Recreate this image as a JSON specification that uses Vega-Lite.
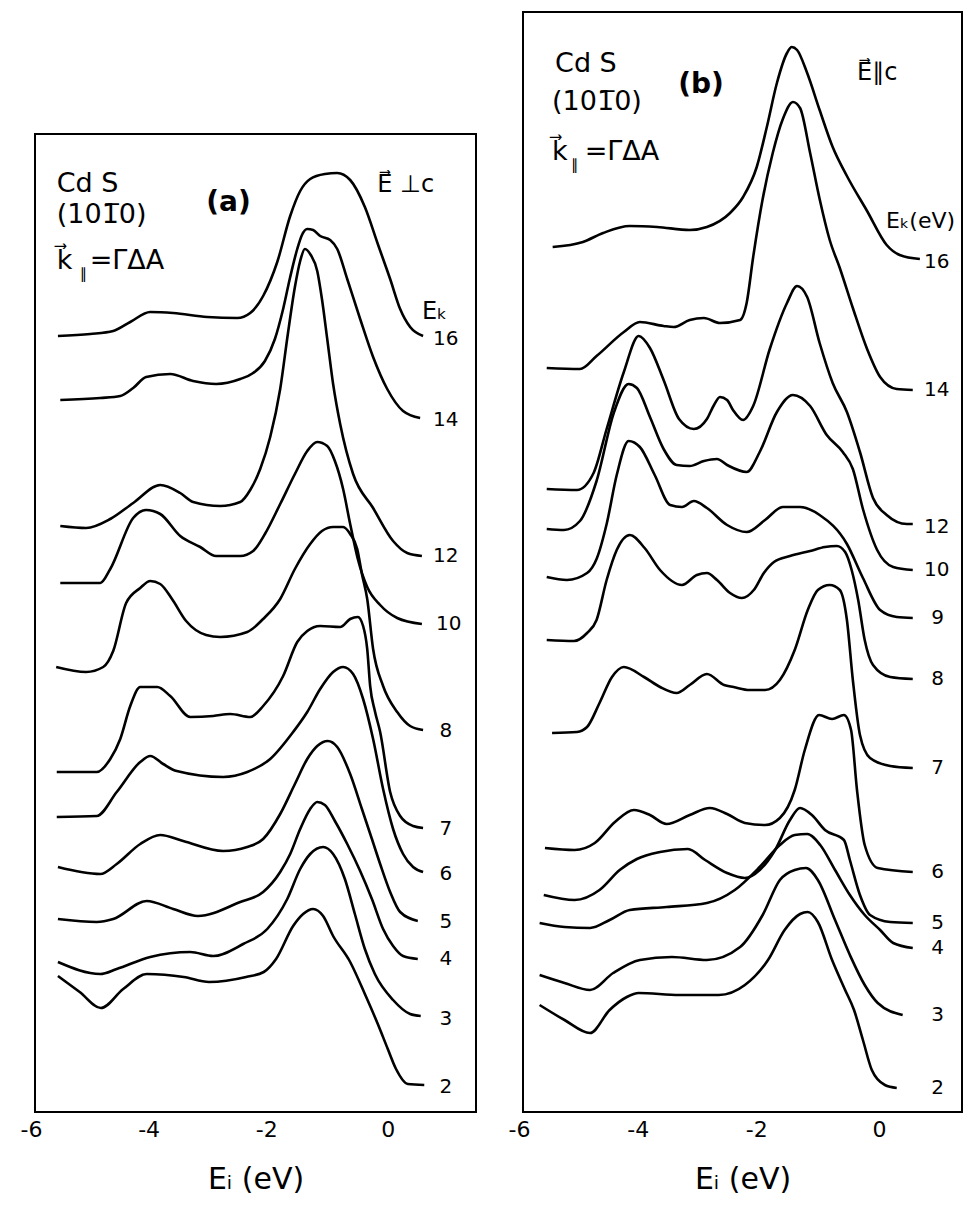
{
"$schema": "https://vega.github.io/schema/vega-lite/v6.json",
"background": "white",
"padding": {"left": 20, "top": 11, "right": 0, "bottom": 0},
"spacing": 31,
"config": {"view": {"stroke": null}, "font": "DejaVu Sans"},
"datasets": {
"frA": [{"E": -6, "E2": 1.5, "I": 0, "I2": 978}],
"frB": [{"E": -6, "E2": 1.4, "I": 0, "I2": 1100}],
"tkA": [{"E": -5}, {"E": -4}, {"E": -3}, {"E": -2}, {"E": -1}, {"E": 0}, {"E": 1}],
"tk": [{"E": -5}, {"E": -4}, {"E": -3}, {"E": -2}, {"E": -1}, {"E": 0}],
"cA": [
{"k":"16","E":-5.61,"I":776},{"k":"16","E":-5.06,"I":778},{"k":"16","E":-4.67,"I":781},{"k":"16","E":-4.38,"I":790},{"k":"16","E":-4.04,"I":800},{"k":"16","E":-3.65,"I":799},{"k":"16","E":-3.07,"I":795},{"k":"16","E":-2.56,"I":794},{"k":"16","E":-2.34,"I":799},{"k":"16","E":-2.12,"I":816},{"k":"16","E":-1.88,"I":850},{"k":"16","E":-1.66,"I":896},{"k":"16","E":-1.49,"I":921},{"k":"16","E":-1.32,"I":933},{"k":"16","E":-1.07,"I":938},{"k":"16","E":-0.86,"I":939},{"k":"16","E":-0.64,"I":932},{"k":"16","E":-0.39,"I":905},{"k":"16","E":-0.17,"I":868},{"k":"16","E":0.04,"I":833},{"k":"16","E":0.21,"I":803},{"k":"16","E":0.38,"I":785},{"k":"16","E":0.60,"I":776},
{"k":"14","E":-5.57,"I":712},{"k":"14","E":-4.89,"I":714},{"k":"14","E":-4.55,"I":716},{"k":"14","E":-4.33,"I":724},{"k":"14","E":-4.11,"I":735},{"k":"14","E":-3.70,"I":738},{"k":"14","E":-3.31,"I":731},{"k":"14","E":-2.92,"I":728},{"k":"14","E":-2.51,"I":733},{"k":"14","E":-2.29,"I":739},{"k":"14","E":-2.09,"I":751},{"k":"14","E":-1.92,"I":773},{"k":"14","E":-1.78,"I":803},{"k":"14","E":-1.66,"I":835},{"k":"14","E":-1.54,"I":863},{"k":"14","E":-1.46,"I":877},{"k":"14","E":-1.37,"I":883},{"k":"14","E":-1.27,"I":882},{"k":"14","E":-1.15,"I":876},{"k":"14","E":-0.98,"I":872},{"k":"14","E":-0.86,"I":863},{"k":"14","E":-0.69,"I":833},{"k":"14","E":-0.47,"I":793},{"k":"14","E":-0.25,"I":755},{"k":"14","E":-0.01,"I":723},{"k":"14","E":0.26,"I":701},{"k":"14","E":0.55,"I":694},
{"k":"12","E":-5.57,"I":586},{"k":"12","E":-5.13,"I":584},{"k":"12","E":-4.72,"I":593},{"k":"12","E":-4.33,"I":609},{"k":"12","E":-3.87,"I":627},{"k":"12","E":-3.53,"I":619},{"k":"12","E":-3.31,"I":610},{"k":"12","E":-2.85,"I":606},{"k":"12","E":-2.51,"I":610},{"k":"12","E":-2.34,"I":622},{"k":"12","E":-2.17,"I":643},{"k":"12","E":-2.00,"I":675},{"k":"12","E":-1.83,"I":723},{"k":"12","E":-1.70,"I":778},{"k":"12","E":-1.58,"I":825},{"k":"12","E":-1.49,"I":851},{"k":"12","E":-1.41,"I":863},{"k":"12","E":-1.31,"I":857},{"k":"12","E":-1.20,"I":841},{"k":"12","E":-1.12,"I":813},{"k":"12","E":-1.03,"I":773},{"k":"12","E":-0.93,"I":728},{"k":"12","E":-0.81,"I":688},{"k":"12","E":-0.59,"I":638},{"k":"12","E":-0.25,"I":604},{"k":"12","E":0.09,"I":571},{"k":"12","E":0.33,"I":559},{"k":"12","E":0.58,"I":556},
{"k":"10","E":-5.57,"I":529},{"k":"10","E":-4.89,"I":529},{"k":"10","E":-4.72,"I":543},{"k":"10","E":-4.33,"I":594},{"k":"10","E":-4.11,"I":602},{"k":"10","E":-3.87,"I":598},{"k":"10","E":-3.53,"I":576},{"k":"10","E":-3.19,"I":565},{"k":"10","E":-2.92,"I":556},{"k":"10","E":-2.51,"I":556},{"k":"10","E":-2.29,"I":561},{"k":"10","E":-2.09,"I":578},{"k":"10","E":-1.83,"I":608},{"k":"10","E":-1.58,"I":638},{"k":"10","E":-1.37,"I":661},{"k":"10","E":-1.20,"I":670},{"k":"10","E":-1.03,"I":666},{"k":"10","E":-0.90,"I":651},{"k":"10","E":-0.76,"I":623},{"k":"10","E":-0.64,"I":588},{"k":"10","E":-0.51,"I":553},{"k":"10","E":-0.35,"I":525},{"k":"10","E":-0.13,"I":507},{"k":"10","E":0.16,"I":494},{"k":"10","E":0.58,"I":488},
{"k":"8","E":-5.64,"I":445},{"k":"8","E":-5.13,"I":440},{"k":"8","E":-4.84,"I":445},{"k":"8","E":-4.67,"I":461},{"k":"8","E":-4.45,"I":509},{"k":"8","E":-4.21,"I":524},{"k":"8","E":-4.04,"I":531},{"k":"8","E":-3.87,"I":528},{"k":"8","E":-3.67,"I":513},{"k":"8","E":-3.43,"I":491},{"k":"8","E":-3.09,"I":477},{"k":"8","E":-2.85,"I":475},{"k":"8","E":-2.39,"I":480},{"k":"8","E":-2.12,"I":493},{"k":"8","E":-1.83,"I":513},{"k":"8","E":-1.58,"I":543},{"k":"8","E":-1.32,"I":568},{"k":"8","E":-1.12,"I":581},{"k":"8","E":-0.93,"I":585},{"k":"8","E":-0.76,"I":585},{"k":"8","E":-0.64,"I":578},{"k":"8","E":-0.52,"I":563},{"k":"8","E":-0.44,"I":538},{"k":"8","E":-0.35,"I":513},{"k":"8","E":-0.25,"I":463},{"k":"8","E":-0.08,"I":426},{"k":"8","E":0.16,"I":400},{"k":"8","E":0.38,"I":386},{"k":"8","E":0.60,"I":382},
{"k":"7","E":-5.63,"I":340},{"k":"7","E":-4.95,"I":340},{"k":"7","E":-4.72,"I":353},{"k":"7","E":-4.55,"I":373},{"k":"7","E":-4.38,"I":406},{"k":"7","E":-4.21,"I":425},{"k":"7","E":-3.92,"I":425},{"k":"7","E":-3.70,"I":416},{"k":"7","E":-3.36,"I":395},{"k":"7","E":-2.97,"I":396},{"k":"7","E":-2.68,"I":398},{"k":"7","E":-2.34,"I":395},{"k":"7","E":-2.12,"I":406},{"k":"7","E":-1.78,"I":436},{"k":"7","E":-1.54,"I":470},{"k":"7","E":-1.37,"I":481},{"k":"7","E":-1.15,"I":486},{"k":"7","E":-0.81,"I":485},{"k":"7","E":-0.64,"I":493},{"k":"7","E":-0.51,"I":495},{"k":"7","E":-0.42,"I":486},{"k":"7","E":-0.35,"I":463},{"k":"7","E":-0.30,"I":426},{"k":"7","E":-0.22,"I":401},{"k":"7","E":-0.13,"I":380},{"k":"7","E":0.04,"I":320},{"k":"7","E":0.21,"I":296},{"k":"7","E":0.43,"I":286},{"k":"7","E":0.60,"I":284},
{"k":"6","E":-5.63,"I":295},{"k":"6","E":-4.95,"I":296},{"k":"6","E":-4.61,"I":320},{"k":"6","E":-4.21,"I":350},{"k":"6","E":-4.04,"I":356},{"k":"6","E":-3.82,"I":348},{"k":"6","E":-3.59,"I":341},{"k":"6","E":-2.80,"I":335},{"k":"6","E":-2.39,"I":340},{"k":"6","E":-2.00,"I":353},{"k":"6","E":-1.61,"I":380},{"k":"6","E":-1.37,"I":400},{"k":"6","E":-1.15,"I":423},{"k":"6","E":-0.93,"I":440},{"k":"6","E":-0.76,"I":445},{"k":"6","E":-0.59,"I":438},{"k":"6","E":-0.42,"I":413},{"k":"6","E":-0.25,"I":373},{"k":"6","E":-0.08,"I":323},{"k":"6","E":0.09,"I":283},{"k":"6","E":0.26,"I":258},{"k":"6","E":0.43,"I":245},{"k":"6","E":0.60,"I":240},
{"k":"5","E":-5.61,"I":245},{"k":"5","E":-4.89,"I":238},{"k":"5","E":-4.61,"I":248},{"k":"5","E":-4.21,"I":268},{"k":"5","E":-3.87,"I":277},{"k":"5","E":-3.48,"I":271},{"k":"5","E":-2.80,"I":261},{"k":"5","E":-2.39,"I":265},{"k":"5","E":-2.12,"I":273},{"k":"5","E":-1.83,"I":298},{"k":"5","E":-1.58,"I":328},{"k":"5","E":-1.37,"I":353},{"k":"5","E":-1.20,"I":366},{"k":"5","E":-1.02,"I":371},{"k":"5","E":-0.86,"I":365},{"k":"5","E":-0.64,"I":338},{"k":"5","E":-0.44,"I":303},{"k":"5","E":-0.27,"I":273},{"k":"5","E":-0.13,"I":248},{"k":"5","E":0.04,"I":220},{"k":"5","E":0.21,"I":200},{"k":"5","E":0.51,"I":191},
{"k":"4","E":-5.61,"I":193},{"k":"4","E":-4.95,"I":190},{"k":"4","E":-4.67,"I":193},{"k":"4","E":-4.10,"I":211},{"k":"4","E":-3.65,"I":203},{"k":"4","E":-3.23,"I":196},{"k":"4","E":-2.51,"I":210},{"k":"4","E":-2.12,"I":220},{"k":"4","E":-1.83,"I":240},{"k":"4","E":-1.66,"I":258},{"k":"4","E":-1.49,"I":283},{"k":"4","E":-1.32,"I":303},{"k":"4","E":-1.20,"I":310},{"k":"4","E":-1.07,"I":307},{"k":"4","E":-0.90,"I":291},{"k":"4","E":-0.69,"I":268},{"k":"4","E":-0.47,"I":241},{"k":"4","E":-0.27,"I":213},{"k":"4","E":-0.08,"I":183},{"k":"4","E":0.09,"I":166},{"k":"4","E":0.26,"I":156},{"k":"4","E":0.51,"I":153},
{"k":"3","E":-5.61,"I":150},{"k":"3","E":-4.89,"I":138},{"k":"3","E":-4.61,"I":143},{"k":"3","E":-4.04,"I":155},{"k":"3","E":-3.36,"I":160},{"k":"3","E":-2.97,"I":156},{"k":"3","E":-2.46,"I":168},{"k":"3","E":-2.05,"I":183},{"k":"3","E":-1.71,"I":213},{"k":"3","E":-1.49,"I":243},{"k":"3","E":-1.32,"I":258},{"k":"3","E":-1.10,"I":265},{"k":"3","E":-0.93,"I":258},{"k":"3","E":-0.73,"I":233},{"k":"3","E":-0.56,"I":198},{"k":"3","E":-0.39,"I":163},{"k":"3","E":-0.22,"I":138},{"k":"3","E":0.09,"I":112},{"k":"3","E":0.38,"I":98},{"k":"3","E":0.56,"I":96},
{"k":"2","E":-5.61,"I":136},{"k":"2","E":-5.24,"I":120},{"k":"2","E":-4.88,"I":104},{"k":"2","E":-4.50,"I":123},{"k":"2","E":-4.10,"I":138},{"k":"2","E":-3.47,"I":135},{"k":"2","E":-3.04,"I":130},{"k":"2","E":-2.41,"I":135},{"k":"2","E":-2.11,"I":140},{"k":"2","E":-1.90,"I":153},{"k":"2","E":-1.61,"I":186},{"k":"2","E":-1.44,"I":198},{"k":"2","E":-1.27,"I":203},{"k":"2","E":-1.10,"I":196},{"k":"2","E":-0.93,"I":176},{"k":"2","E":-0.64,"I":150},{"k":"2","E":-0.39,"I":118},{"k":"2","E":-0.17,"I":88},{"k":"2","E":0.00,"I":63},{"k":"2","E":0.14,"I":43},{"k":"2","E":0.34,"I":28},{"k":"2","E":0.62,"I":27}
],
"cB": [
{"k":"16","E":-5.50,"I":865},{"k":"16","E":-4.99,"I":870},{"k":"16","E":-4.65,"I":879},{"k":"16","E":-4.20,"I":886},{"k":"16","E":-3.74,"I":885},{"k":"16","E":-3.19,"I":882},{"k":"16","E":-2.90,"I":885},{"k":"16","E":-2.51,"I":899},{"k":"16","E":-2.29,"I":915},{"k":"16","E":-2.06,"I":945},{"k":"16","E":-1.89,"I":985},{"k":"16","E":-1.72,"I":1029},{"k":"16","E":-1.55,"I":1059},{"k":"16","E":-1.47,"I":1065},{"k":"16","E":-1.38,"I":1062},{"k":"16","E":-1.21,"I":1039},{"k":"16","E":-1.00,"I":1002},{"k":"16","E":-0.78,"I":965},{"k":"16","E":-0.54,"I":936},{"k":"16","E":-0.20,"I":901},{"k":"16","E":0.13,"I":867},{"k":"16","E":0.35,"I":857},{"k":"16","E":0.69,"I":853},
{"k":"14","E":-5.60,"I":744},{"k":"14","E":-5.04,"I":743},{"k":"14","E":-4.76,"I":756},{"k":"14","E":-4.30,"I":780},{"k":"14","E":-4.03,"I":790},{"k":"14","E":-3.63,"I":786},{"k":"14","E":-3.46,"I":785},{"k":"14","E":-3.19,"I":792},{"k":"14","E":-2.95,"I":794},{"k":"14","E":-2.68,"I":789},{"k":"14","E":-2.34,"I":792},{"k":"14","E":-2.23,"I":809},{"k":"14","E":-2.12,"I":855},{"k":"14","E":-1.96,"I":913},{"k":"14","E":-1.79,"I":959},{"k":"14","E":-1.62,"I":993},{"k":"14","E":-1.45,"I":1010},{"k":"14","E":-1.33,"I":1004},{"k":"14","E":-1.16,"I":959},{"k":"14","E":-1.00,"I":913},{"k":"14","E":-0.83,"I":872},{"k":"14","E":-0.66,"I":844},{"k":"14","E":-0.44,"I":804},{"k":"14","E":-0.20,"I":763},{"k":"14","E":0.02,"I":735},{"k":"14","E":0.30,"I":723},{"k":"14","E":0.57,"I":722},
{"k":"12","E":-5.60,"I":623},{"k":"12","E":-5.09,"I":622},{"k":"12","E":-4.81,"I":639},{"k":"12","E":-4.59,"I":683},{"k":"12","E":-4.30,"I":740},{"k":"12","E":-4.05,"I":776},{"k":"12","E":-3.86,"I":764},{"k":"12","E":-3.63,"I":732},{"k":"12","E":-3.37,"I":693},{"k":"12","E":-3.12,"I":683},{"k":"12","E":-2.90,"I":693},{"k":"12","E":-2.78,"I":707},{"k":"12","E":-2.68,"I":715},{"k":"12","E":-2.56,"I":712},{"k":"12","E":-2.46,"I":702},{"k":"12","E":-2.29,"I":692},{"k":"12","E":-2.12,"I":706},{"k":"12","E":-1.84,"I":763},{"k":"12","E":-1.55,"I":809},{"k":"12","E":-1.38,"I":826},{"k":"12","E":-1.21,"I":815},{"k":"12","E":-1.00,"I":769},{"k":"12","E":-0.78,"I":729},{"k":"12","E":-0.54,"I":700},{"k":"12","E":-0.32,"I":660},{"k":"12","E":-0.10,"I":614},{"k":"12","E":0.13,"I":597},{"k":"12","E":0.47,"I":588},{"k":"12","E":0.57,"I":588},
{"k":"10","E":-5.60,"I":583},{"k":"10","E":-5.31,"I":582},{"k":"10","E":-5.04,"I":591},{"k":"10","E":-4.76,"I":631},{"k":"10","E":-4.47,"I":699},{"k":"10","E":-4.22,"I":728},{"k":"10","E":-4.08,"I":724},{"k":"10","E":-3.86,"I":695},{"k":"10","E":-3.63,"I":663},{"k":"10","E":-3.41,"I":647},{"k":"10","E":-3.19,"I":646},{"k":"10","E":-2.95,"I":651},{"k":"10","E":-2.73,"I":653},{"k":"10","E":-2.56,"I":647},{"k":"10","E":-2.23,"I":640},{"k":"10","E":-2.01,"I":660},{"k":"10","E":-1.72,"I":700},{"k":"10","E":-1.45,"I":717},{"k":"10","E":-1.16,"I":706},{"k":"10","E":-0.88,"I":677},{"k":"10","E":-0.61,"I":660},{"k":"10","E":-0.44,"I":643},{"k":"10","E":-0.27,"I":603},{"k":"10","E":-0.03,"I":562},{"k":"10","E":0.24,"I":545},{"k":"10","E":0.57,"I":542},
{"k":"9","E":-5.60,"I":535},{"k":"9","E":-5.26,"I":532},{"k":"9","E":-4.92,"I":539},{"k":"9","E":-4.76,"I":553},{"k":"9","E":-4.59,"I":588},{"k":"9","E":-4.42,"I":637},{"k":"9","E":-4.22,"I":671},{"k":"9","E":-4.03,"I":665},{"k":"9","E":-3.78,"I":637},{"k":"9","E":-3.52,"I":607},{"k":"9","E":-3.32,"I":605},{"k":"9","E":-3.12,"I":611},{"k":"9","E":-2.90,"I":604},{"k":"9","E":-2.56,"I":587},{"k":"9","E":-2.23,"I":580},{"k":"9","E":-1.92,"I":592},{"k":"9","E":-1.62,"I":605},{"k":"9","E":-1.33,"I":605},{"k":"9","E":-1.00,"I":597},{"k":"9","E":-0.54,"I":568},{"k":"9","E":-0.27,"I":534},{"k":"9","E":0.02,"I":502},{"k":"9","E":0.30,"I":495},{"k":"9","E":0.57,"I":494},
{"k":"8","E":-5.60,"I":472},{"k":"8","E":-5.14,"I":471},{"k":"8","E":-4.92,"I":479},{"k":"8","E":-4.76,"I":492},{"k":"8","E":-4.59,"I":532},{"k":"8","E":-4.42,"I":562},{"k":"8","E":-4.20,"I":577},{"k":"8","E":-3.95,"I":564},{"k":"8","E":-3.69,"I":542},{"k":"8","E":-3.32,"I":527},{"k":"8","E":-3.07,"I":537},{"k":"8","E":-2.90,"I":539},{"k":"8","E":-2.73,"I":532},{"k":"8","E":-2.51,"I":519},{"k":"8","E":-2.31,"I":514},{"k":"8","E":-2.11,"I":522},{"k":"8","E":-1.94,"I":539},{"k":"8","E":-1.77,"I":550},{"k":"8","E":-1.50,"I":556},{"k":"8","E":-1.16,"I":561},{"k":"8","E":-0.91,"I":565},{"k":"8","E":-0.71,"I":566},{"k":"8","E":-0.57,"I":560},{"k":"8","E":-0.46,"I":542},{"k":"8","E":-0.35,"I":512},{"k":"8","E":-0.24,"I":472},{"k":"8","E":-0.10,"I":447},{"k":"8","E":0.19,"I":435},{"k":"8","E":0.57,"I":433},
{"k":"7","E":-5.51,"I":379},{"k":"7","E":-5.09,"I":380},{"k":"7","E":-4.92,"I":385},{"k":"7","E":-4.71,"I":409},{"k":"7","E":-4.50,"I":435},{"k":"7","E":-4.30,"I":445},{"k":"7","E":-3.96,"I":435},{"k":"7","E":-3.69,"I":425},{"k":"7","E":-3.41,"I":419},{"k":"7","E":-3.19,"I":427},{"k":"7","E":-2.90,"I":438},{"k":"7","E":-2.61,"I":427},{"k":"7","E":-2.45,"I":425},{"k":"7","E":-2.18,"I":422},{"k":"7","E":-1.92,"I":422},{"k":"7","E":-1.67,"I":432},{"k":"7","E":-1.42,"I":462},{"k":"7","E":-1.20,"I":502},{"k":"7","E":-1.03,"I":522},{"k":"7","E":-0.83,"I":527},{"k":"7","E":-0.66,"I":522},{"k":"7","E":-0.54,"I":492},{"k":"7","E":-0.44,"I":432},{"k":"7","E":-0.32,"I":377},{"k":"7","E":-0.15,"I":354},{"k":"7","E":0.19,"I":346},{"k":"7","E":0.57,"I":344},
{"k":"6","E":-5.63,"I":264},{"k":"6","E":-5.13,"I":262},{"k":"6","E":-4.79,"I":269},{"k":"6","E":-4.45,"I":290},{"k":"6","E":-4.13,"I":302},{"k":"6","E":-3.86,"I":297},{"k":"6","E":-3.58,"I":288},{"k":"6","E":-3.19,"I":297},{"k":"6","E":-2.85,"I":304},{"k":"6","E":-2.56,"I":298},{"k":"6","E":-2.26,"I":289},{"k":"6","E":-1.92,"I":287},{"k":"6","E":-1.67,"I":294},{"k":"6","E":-1.42,"I":322},{"k":"6","E":-1.25,"I":362},{"k":"6","E":-1.01,"I":397},{"k":"6","E":-0.79,"I":393},{"k":"6","E":-0.59,"I":397},{"k":"6","E":-0.47,"I":382},{"k":"6","E":-0.37,"I":322},{"k":"6","E":-0.24,"I":267},{"k":"6","E":-0.02,"I":244},{"k":"6","E":0.57,"I":240},
{"k":"5","E":-5.65,"I":217},{"k":"5","E":-5.13,"I":212},{"k":"5","E":-4.71,"I":222},{"k":"5","E":-4.37,"I":242},{"k":"5","E":-4.08,"I":253},{"k":"5","E":-3.69,"I":260},{"k":"5","E":-3.22,"I":263},{"k":"5","E":-2.93,"I":252},{"k":"5","E":-2.56,"I":239},{"k":"5","E":-2.26,"I":234},{"k":"5","E":-2.01,"I":242},{"k":"5","E":-1.75,"I":262},{"k":"5","E":-1.50,"I":292},{"k":"5","E":-1.33,"I":304},{"k":"5","E":-1.13,"I":297},{"k":"5","E":-0.91,"I":282},{"k":"5","E":-0.59,"I":272},{"k":"5","E":-0.49,"I":252},{"k":"5","E":-0.32,"I":217},{"k":"5","E":-0.15,"I":197},{"k":"5","E":0.19,"I":190},{"k":"5","E":0.57,"I":189},
{"k":"4","E":-5.72,"I":189},{"k":"4","E":-5.30,"I":185},{"k":"4","E":-4.87,"I":184},{"k":"4","E":-4.54,"I":192},{"k":"4","E":-4.20,"I":202},{"k":"4","E":-3.58,"I":205},{"k":"4","E":-2.90,"I":209},{"k":"4","E":-2.43,"I":222},{"k":"4","E":-2.01,"I":245},{"k":"4","E":-1.67,"I":267},{"k":"4","E":-1.42,"I":277},{"k":"4","E":-1.21,"I":278},{"k":"4","E":-0.99,"I":267},{"k":"4","E":-0.74,"I":242},{"k":"4","E":-0.49,"I":217},{"k":"4","E":-0.24,"I":197},{"k":"4","E":0.02,"I":182},{"k":"4","E":0.24,"I":169},{"k":"4","E":0.57,"I":164},
{"k":"3","E":-5.72,"I":137},{"k":"3","E":-5.30,"I":129},{"k":"3","E":-4.87,"I":122},{"k":"3","E":-4.48,"I":139},{"k":"3","E":-4.03,"I":152},{"k":"3","E":-3.49,"I":155},{"k":"3","E":-2.90,"I":152},{"k":"3","E":-2.34,"I":165},{"k":"3","E":-1.96,"I":197},{"k":"3","E":-1.67,"I":232},{"k":"3","E":-1.42,"I":242},{"k":"3","E":-1.23,"I":244},{"k":"3","E":-1.03,"I":232},{"k":"3","E":-0.74,"I":192},{"k":"3","E":-0.49,"I":157},{"k":"3","E":-0.24,"I":127},{"k":"3","E":-0.02,"I":109},{"k":"3","E":0.40,"I":97},
{"k":"2","E":-5.72,"I":107},{"k":"2","E":-5.30,"I":92},{"k":"2","E":-4.87,"I":79},{"k":"2","E":-4.54,"I":102},{"k":"2","E":-4.25,"I":115},{"k":"2","E":-4.05,"I":119},{"k":"2","E":-3.36,"I":117},{"k":"2","E":-2.70,"I":117},{"k":"2","E":-2.26,"I":127},{"k":"2","E":-1.87,"I":152},{"k":"2","E":-1.59,"I":182},{"k":"2","E":-1.33,"I":198},{"k":"2","E":-1.20,"I":200},{"k":"2","E":-1.03,"I":190},{"k":"2","E":-0.79,"I":152},{"k":"2","E":-0.57,"I":122},{"k":"2","E":-0.42,"I":102},{"k":"2","E":-0.27,"I":72},{"k":"2","E":-0.12,"I":42},{"k":"2","E":0.10,"I":27},{"k":"2","E":0.30,"I":24}
],
"lA": [{"t":"16","E":0.77,"I":773},{"t":"14","E":0.77,"I":692},{"t":"12","E":0.77,"I":556},{"t":"10","E":0.82,"I":488},{"t":"8","E":0.88,"I":381},{"t":"7","E":0.88,"I":283},{"t":"6","E":0.88,"I":238},{"t":"5","E":0.88,"I":190},{"t":"4","E":0.88,"I":153},{"t":"3","E":0.88,"I":93},{"t":"2","E":0.88,"I":25}],
"lB": [{"t":"16","E":0.76,"I":850},{"t":"14","E":0.76,"I":722},{"t":"12","E":0.76,"I":585},{"t":"10","E":0.76,"I":542},{"t":"9","E":0.88,"I":494},{"t":"8","E":0.88,"I":433},{"t":"7","E":0.88,"I":344},{"t":"6","E":0.88,"I":240},{"t":"5","E":0.88,"I":189},{"t":"4","E":0.88,"I":164},{"t":"3","E":0.88,"I":97},{"t":"2","E":0.88,"I":24}],
"bigA": [{"t":"Cd S","E":-5.63,"I":920},{"t":"(101̅0)","E":-5.63,"I":889},{"t":"k⃗","E":-5.63,"I":843},{"t":"=ΓΔA","E":-5.07,"I":843}],
"subA": [{"t":"∥","E":-5.24,"I":833}],
"boldA": [{"t":"(a)","E":-2.71,"I":901}],
"medA": [{"t":"E⃗ ⊥c","E":-0.18,"I":920},{"t":"Eₖ","E":0.58,"I":793}],
"bigB": [{"t":"Cd S","E":-5.46,"I":1040},{"t":"(101̅0)","E":-5.51,"I":1002},{"t":"k⃗","E":-5.51,"I":952},{"t":"=ΓΔA","E":-4.96,"I":952}],
"subB": [{"t":"∥","E":-5.19,"I":942}],
"boldB": [{"t":"(b)","E":-3.0,"I":1019}],
"medB": [{"t":"E⃗∥c","E":-0.37,"I":1032}],
"ekB": [{"t":"Eₖ(eV)","E":0.12,"I":884}]
},
"hconcat": [
{
"width": 441, "height": 1100,
"encoding": {
"x": {"field": "E", "type": "quantitative", "scale": {"domain": [-6, 1.5], "nice": false, "zero": false},
"axis": {"values": [-6, -4, -2, 0], "ticks": false, "domain": false, "grid": false, "labelFontSize": 22, "labelFont": "DejaVu Sans", "labelColor": "black", "labelPadding": 7, "labelAlign": "right", "labelOffset": 7, "labelFlush": false, "labelExpr": "replace(datum.label, '−', '-')", "title": "Eᵢ (eV)", "titleFont": "DejaVu Sans", "titleFontSize": 30, "titleFontWeight": "normal", "titleColor": "black", "titlePadding": 24}},
"y": {"field": "I", "type": "quantitative", "scale": {"domain": [0, 1100], "nice": false, "zero": false}, "axis": null}
},
"layer": [
{"data": {"name": "frA"}, "mark": {"type": "rect", "filled": false, "stroke": "black", "strokeWidth": 2}, "encoding": {"x2": {"field": "E2"}, "y2": {"field": "I2"}}},
{"data": {"name": "tkA"}, "mark": {"type": "rule", "color": "black", "strokeWidth": 2}, "encoding": {"y": {"datum": 963}, "y2": {"datum": 978}}},
{"data": {"name": "tk"}, "mark": {"type": "rule", "color": "black", "strokeWidth": 2}, "encoding": {"y": {"datum": 0}, "y2": {"datum": 15}}},
{"data": {"name": "cA"}, "mark": {"type": "line", "color": "black", "strokeWidth": 2.6, "interpolate": "monotone"}, "encoding": {"detail": {"field": "k"}}},
{"data": {"name": "lA"}, "mark": {"type": "text", "fontSize": 20, "align": "left", "baseline": "middle", "font": "DejaVu Sans", "color": "black"}, "encoding": {"text": {"field": "t"}}},
{"data": {"name": "bigA"}, "mark": {"type": "text", "fontSize": 27, "align": "left", "baseline": "alphabetic", "font": "DejaVu Sans", "color": "black"}, "encoding": {"text": {"field": "t"}}},
{"data": {"name": "subA"}, "mark": {"type": "text", "fontSize": 15, "align": "left", "baseline": "alphabetic", "font": "DejaVu Sans", "color": "black"}, "encoding": {"text": {"field": "t"}}},
{"data": {"name": "boldA"}, "mark": {"type": "text", "fontSize": 28, "fontWeight": "bold", "align": "center", "baseline": "alphabetic", "font": "DejaVu Sans", "color": "black"}, "encoding": {"text": {"field": "t"}}},
{"data": {"name": "medA"}, "mark": {"type": "text", "fontSize": 24, "align": "left", "baseline": "alphabetic", "font": "DejaVu Sans", "color": "black"}, "encoding": {"text": {"field": "t"}}}
]
},
{
"width": 439, "height": 1100,
"encoding": {
"x": {"field": "E", "type": "quantitative", "scale": {"domain": [-6, 1.4], "nice": false, "zero": false},
"axis": {"values": [-6, -4, -2, 0], "ticks": false, "domain": false, "grid": false, "labelFontSize": 22, "labelFont": "DejaVu Sans", "labelColor": "black", "labelPadding": 7, "labelAlign": "right", "labelOffset": 7, "labelFlush": false, "labelExpr": "replace(datum.label, '−', '-')", "title": "Eᵢ (eV)", "titleFont": "DejaVu Sans", "titleFontSize": 30, "titleFontWeight": "normal", "titleColor": "black", "titlePadding": 24}},
"y": {"field": "I", "type": "quantitative", "scale": {"domain": [0, 1100], "nice": false, "zero": false}, "axis": null}
},
"layer": [
{"data": {"name": "frB"}, "mark": {"type": "rect", "filled": false, "stroke": "black", "strokeWidth": 2}, "encoding": {"x2": {"field": "E2"}, "y2": {"field": "I2"}}},
{"data": {"name": "tk"}, "mark": {"type": "rule", "color": "black", "strokeWidth": 2}, "encoding": {"y": {"datum": 1085}, "y2": {"datum": 1100}}},
{"data": {"name": "tk"}, "mark": {"type": "rule", "color": "black", "strokeWidth": 2}, "encoding": {"y": {"datum": 0}, "y2": {"datum": 15}}},
{"data": {"name": "cB"}, "mark": {"type": "line", "color": "black", "strokeWidth": 2.6, "interpolate": "monotone"}, "encoding": {"detail": {"field": "k"}}},
{"data": {"name": "lB"}, "mark": {"type": "text", "fontSize": 20, "align": "left", "baseline": "middle", "font": "DejaVu Sans", "color": "black"}, "encoding": {"text": {"field": "t"}}},
{"data": {"name": "bigB"}, "mark": {"type": "text", "fontSize": 27, "align": "left", "baseline": "alphabetic", "font": "DejaVu Sans", "color": "black"}, "encoding": {"text": {"field": "t"}}},
{"data": {"name": "subB"}, "mark": {"type": "text", "fontSize": 15, "align": "left", "baseline": "alphabetic", "font": "DejaVu Sans", "color": "black"}, "encoding": {"text": {"field": "t"}}},
{"data": {"name": "boldB"}, "mark": {"type": "text", "fontSize": 28, "fontWeight": "bold", "align": "center", "baseline": "alphabetic", "font": "DejaVu Sans", "color": "black"}, "encoding": {"text": {"field": "t"}}},
{"data": {"name": "medB"}, "mark": {"type": "text", "fontSize": 24, "align": "left", "baseline": "alphabetic", "font": "DejaVu Sans", "color": "black"}, "encoding": {"text": {"field": "t"}}},
{"data": {"name": "ekB"}, "mark": {"type": "text", "fontSize": 22, "align": "left", "baseline": "alphabetic", "font": "DejaVu Sans", "color": "black"}, "encoding": {"text": {"field": "t"}}}
]
}
]
}
